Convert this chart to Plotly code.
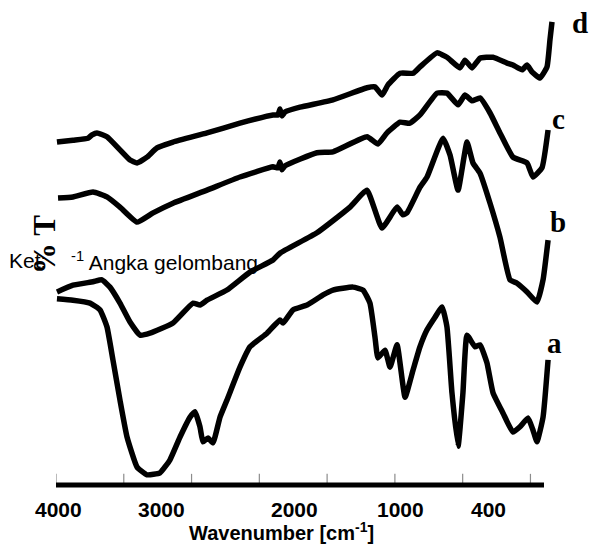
import plotly.graph_objects as go

# ---- data (wavenumber in cm-1, transmittance in relative %) ----
wn_a = [3993, 3875, 3749, 3675, 3624, 3580, 3528, 3476, 3402, 3329, 3233, 3159, 3085, 3011, 2975,
        2938, 2916, 2879, 2842, 2790, 2739, 2643, 2569, 2443, 2348, 2325, 2252, 2148, 2030, 1957,
        1809, 1735, 1684, 1647, 1625, 1573, 1536, 1484, 1425, 1366, 1315, 1263, 1204, 1152, 1116,
        1079, 1034, 998, 968, 909, 872, 821, 776, 702, 629, 577, 518, 481, 452, 407, 370]
t_a = [38.4, 38.1, 37.5, 36.1, 32.6, 25.8, 17.5, 9.9, 3.7, 2.1, 2.5, 5.2, 9.9, 14.0, 15.1,
       12.0, 8.9, 9.7, 8.7, 14.0, 17.5, 24.3, 28.5, 31.3, 34.0, 33.4, 36.1, 37.1, 39.2, 40.2,
       40.8, 40.2, 37.5, 30.5, 26.2, 27.8, 24.3, 28.9, 18.1, 23.7, 28.5, 32.0, 34.6, 36.7, 32.6,
       19.0, 8.0, 19.0, 30.9, 28.5, 28.9, 25.2, 19.0, 14.8, 10.9, 12.0, 13.8, 11.3, 8.9, 14.0, 25.8]

wn_b = [3993, 3875, 3727, 3661, 3602, 3528, 3454, 3380, 3307, 3137, 2989, 2938, 2886, 2739, 2569,
        2399, 2348, 2075, 1831, 1706, 1595, 1484, 1440, 1411, 1315, 1263, 1145, 1093, 1034, 968,
        924, 872, 798, 725, 651, 599, 525, 452, 407, 370]
t_b = [39.8, 41.2, 41.9, 42.3, 40.8, 37.5, 33.6, 30.9, 31.3, 33.4, 37.5, 37.1, 38.1, 40.2, 43.9,
       46.4, 47.8, 52.0, 57.3, 60.8, 53.0, 57.3, 55.7, 56.1, 61.4, 63.5, 71.5, 68.0, 60.8, 70.7,
       66.4, 64.3, 58.1, 51.1, 42.3, 41.6, 39.8, 37.7, 42.3, 50.5]

wn_c = [3985, 3875, 3727, 3624, 3528, 3402, 3284, 3137, 2886, 2643, 2399, 2363, 2348, 2333, 2311,
        2075, 1957, 1706, 1625, 1558, 1462, 1389, 1315, 1189, 1116, 1034, 983, 931, 872, 798,
        725, 629, 525, 481, 415, 370]
t_c = [59.2, 59.4, 60.4, 59.4, 57.3, 54.2, 56.1, 58.1, 60.8, 63.5, 65.6, 65.4, 66.6, 65.0, 65.8,
       68.5, 68.7, 71.8, 70.3, 72.6, 74.8, 74.6, 76.3, 80.8, 80.8, 78.4, 80.4, 79.2, 79.8, 76.7,
       72.6, 67.6, 66.4, 63.5, 65.4, 73.2]

wn_d = [3993, 3875, 3764, 3734, 3698, 3624, 3528, 3454, 3402, 3329, 3255, 3137, 2886, 2643, 2399,
        2363, 2348, 2333, 2311, 2200, 1957, 1706, 1647, 1595, 1551, 1462, 1366, 1315, 1189, 1116,
        1020, 983, 931, 872, 776, 673, 629, 562, 525, 489, 430, 378, 356, 341]
t_d = [70.7, 71.1, 71.5, 72.2, 72.6, 71.8, 69.1, 67.0, 66.4, 67.6, 69.5, 70.7, 72.6, 74.6, 76.3,
       76.3, 77.5, 76.1, 76.9, 77.9, 79.4, 81.9, 82.1, 80.4, 82.5, 84.9, 84.9, 86.2, 89.1, 88.2,
       86.0, 87.6, 86.0, 88.0, 88.2, 87.0, 86.6, 85.6, 86.6, 85.2, 83.9, 86.2, 91.8, 95.5]

series = [("a", wn_a, t_a), ("b", wn_b, t_b), ("c", wn_c, t_c), ("d", wn_d, t_d)]
curve_labels = ["a", "b", "c", "d"]
tick_vals = [4000, 3500, 3000, 2500, 2000, 1500, 1000, 500]
tick_labels = ["4000", "3000", "2000", "1000", "400"]
tick_label_pos = [3985, 3225, 2237, 1462, 813]   # where the printed labels sit

fig = go.Figure()

# small upward tick marks along the baseline, one per tick value
tx, ty = [], []
for v in tick_vals:
    tx += [v, v, None]
    ty += [0, 2.3, None]
fig.add_trace(go.Scatter(x=tx, y=ty, mode="lines", line=dict(color="#8c8c8c", width=1.2),
                         showlegend=False, hoverinfo="skip"))

for name, x, y in series:
    fig.add_trace(go.Scatter(x=x, y=y, mode="lines", name=name,
                             line=dict(color="black", width=5.5, shape="spline", smoothing=0.4),
                             showlegend=False, hoverinfo="skip"))

# thick baseline from 4000 to 400
fig.add_shape(type="line", xref="x", yref="paper", x0=4000, x1=400, y0=0, y1=0,
              line=dict(color="black", width=5))

ann = []
for lab, pos in zip(tick_labels, tick_label_pos):
    ann.append(dict(x=pos, xref="x", y=-0.0505, yref="paper", text=lab, showarrow=False,
                    xanchor="center", yanchor="middle",
                    font=dict(family="Arial, Liberation Sans", size=21, color="black", weight="bold")))
ann.append(dict(x=0.448, xref="paper", y=-0.095, yref="paper",
                text="Wavenumber [cm<sup>-1</sup>]", showarrow=False, xanchor="center", yanchor="middle",
                font=dict(family="Arial, Liberation Sans", size=20, color="black", weight="bold")))
# curve letters
letter_pos = {"a": (0.990, 0.292), "b": (0.996, 0.542), "c": (0.998, 0.754), "d": (1.0397, 0.952)}
for lab in curve_labels:
    px, py = letter_pos[lab]
    ann.append(dict(x=px, y=py, xref="paper", yref="paper", text=lab, showarrow=False,
                    xanchor="center", yanchor="middle",
                    font=dict(family="Liberation Serif, Times New Roman", size=29, color="black",
                              weight="bold")))
# stray note text
ann.append(dict(x=-0.0972, y=0.4619, xref="paper", yref="paper", text="Ket:",
                showarrow=False, xanchor="left", yanchor="middle",
                font=dict(family="Arial, Liberation Sans", size=21, color="black")))
ann.append(dict(x=0.0258, y=0.4619, xref="paper", yref="paper",
                text="<sup>-1</sup> Angka gelombang",
                showarrow=False, xanchor="left", yanchor="middle",
                font=dict(family="Arial, Liberation Sans", size=21, color="black")))
# y-axis title
ann.append(dict(x=-0.0238, y=0.4948, xref="paper", yref="paper", text="% T",
                showarrow=False, textangle=-90, xanchor="center", yanchor="middle",
                font=dict(family="Liberation Serif, Times New Roman", size=31, color="black",
                          weight="bold")))

fig.update_layout(
    width=593, height=553,
    margin=dict(l=56, r=33, t=0, b=68),
    paper_bgcolor="white", plot_bgcolor="white",
    annotations=ann,
    xaxis=dict(range=[4000, 282], showgrid=False, zeroline=False, showline=False,
               ticks="", showticklabels=False),
    yaxis=dict(range=[0, 100], visible=False),
)

fig.write_html("out.html")
